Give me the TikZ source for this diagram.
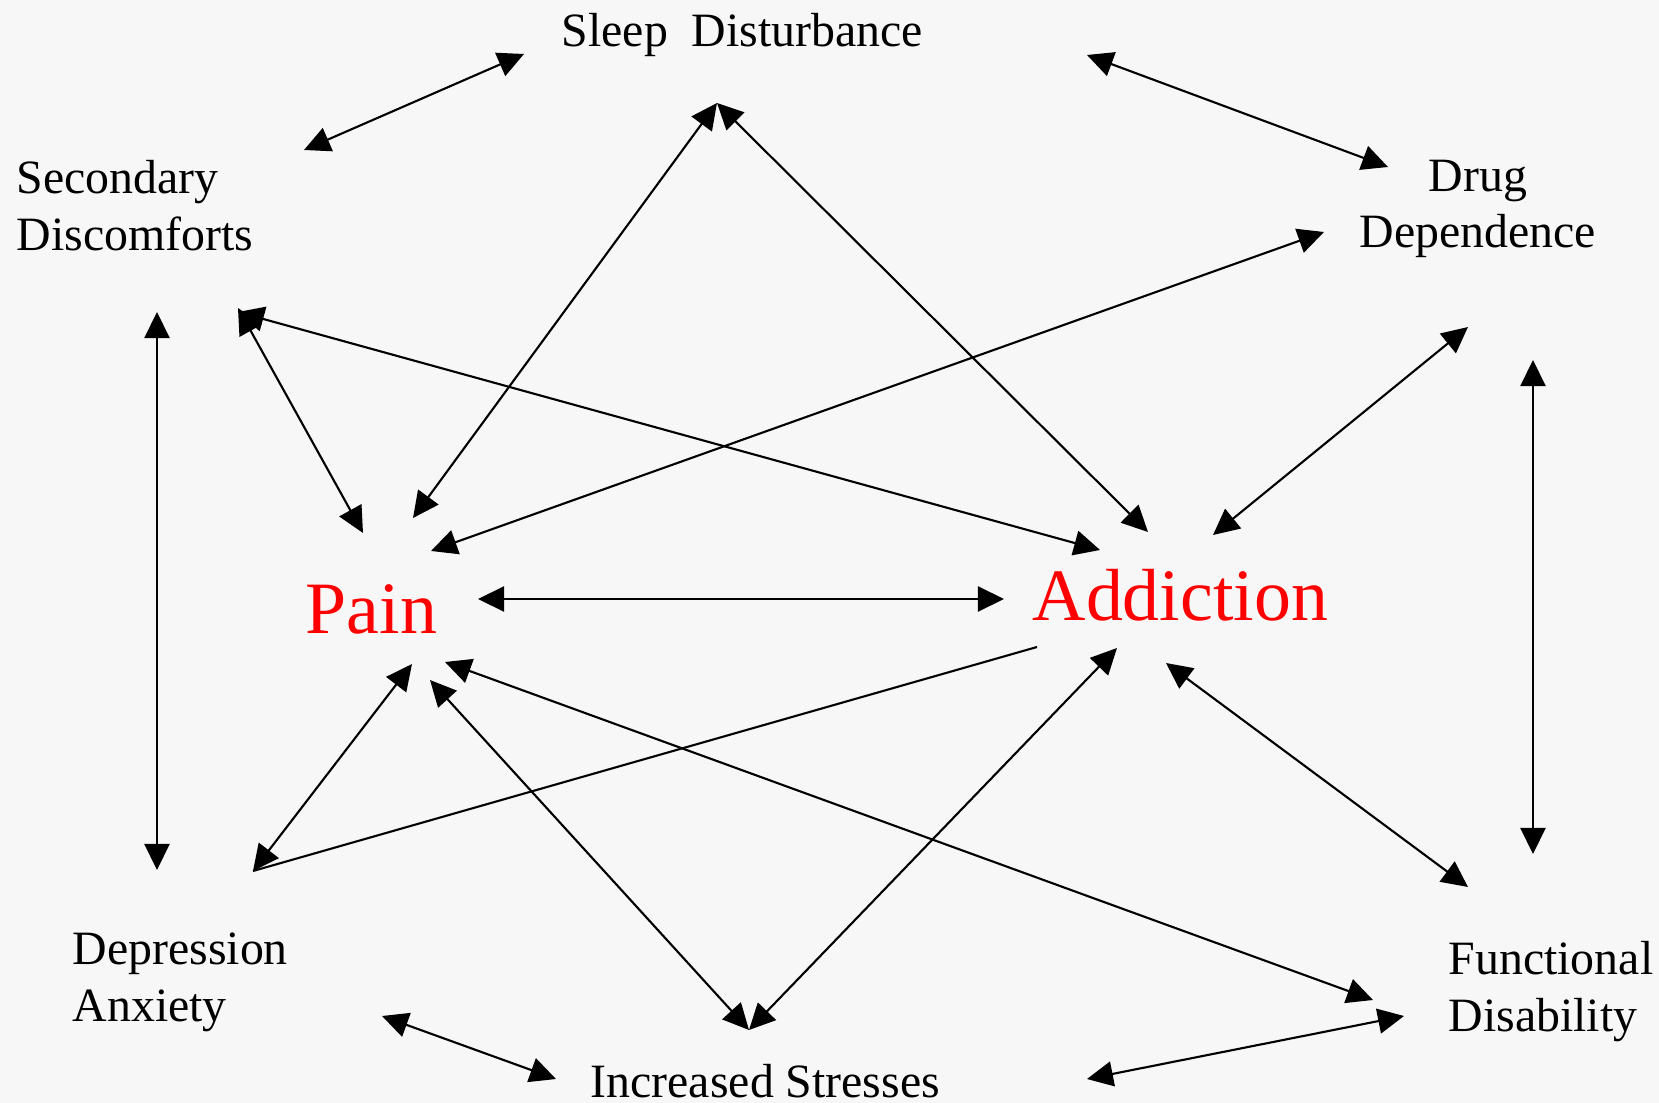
\documentclass[tikz,border=0pt]{standalone}
\usepackage{fontspec}
\setmainfont{Liberation Serif}
\usetikzlibrary{arrows.meta}
\definecolor{paper}{HTML}{F7F7F7}
\tikzset{
    factor/.style={
           inner sep=0pt,
           font=\fontsize{13.6}{16.2}\selectfont,
           },
    core/.style={
           inner sep=0pt,
           text=red,
           font=\fontsize{21}{25}\selectfont,
           },
    twoway/.style={
           {Triangle[length=0.26cm,width=0.25cm]}-{Triangle[length=0.26cm,width=0.25cm]},
           line width=0.6pt,
           },
    oneway/.style={
           line width=0.6pt,
           },
}

\begin{document}
\begin{tikzpicture}[x=0.01cm,y=-0.01cm]
  % page in pixels of the reference, y downwards
  \fill[paper] (0,0) rectangle (1659,1103);
  \useasboundingbox (0,0) rectangle (1659,1103);

  % the eight labels (two-line ones sit on the baseline of their last line)
  \node[factor,anchor=base west] (SLEEP) at (561,47) {Sleep\ \ Disturbance};
  \node[factor,anchor=base west,align=left] (SECONDARY) at (16,250) {Secondary\\Discomforts};
  \node[factor,anchor=base,align=center] (DRUG) at (1478,248) {Drug\\Dependence};
  \node[factor,anchor=base west,align=left] (DEPRESSION) at (72,1021) {Depression\\Anxiety};
  \node[factor,anchor=base west] (STRESSES) at (590,1097) {Increased Stresses};
  \node[factor,anchor=base west,align=left] (FUNCTIONAL) at (1448,1031) {Functional\\Disability};
  \node[core,anchor=base west] (PAIN) at (305,633) {Pain};
  \node[core,anchor=base west] (ADDICTION) at (1032,620) {Addiction};

  % outer ring
  \path[twoway]
   ([shift={(288,-100)}]SECONDARY.base west) edge ([shift={(-37,7)}]SLEEP.base west)
   ([shift={(526,8)}]SLEEP.base west) edge ([shift={(-90,-81)}]DRUG.base)
   ([shift={(141,62)}]SECONDARY.base west) edge ([shift={(85,-151)}]DEPRESSION.base west)
   ([shift={(55,112)}]DRUG.base) edge ([shift={(85,-177)}]FUNCTIONAL.base west)
   ([shift={(310,-5)}]DEPRESSION.base west) edge ([shift={(-34,-18)}]STRESSES.base west)
   ([shift={(497,-18)}]STRESSES.base west) edge ([shift={(-44,-15)}]FUNCTIONAL.base west);

  % Pain and Addiction to everything
  \path[twoway]
   ([shift={(173,-34)}]PAIN.base west) edge ([shift={(-28,-21)}]ADDICTION.base west)
   ([shift={(58,-100)}]PAIN.base west) edge ([shift={(222,58)}]SECONDARY.base west)
   ([shift={(108,-115)}]PAIN.base west) edge ([shift={(156,56)}]SLEEP.base west)
   ([shift={(126,-82)}]PAIN.base west) edge ([shift={(-154,-16)}]DRUG.base)
   ([shift={(125,47)}]PAIN.base west) edge ([shift={(159,-67)}]STRESSES.base west)
   ([shift={(140,29)}]PAIN.base west) edge ([shift={(-75,-31)}]FUNCTIONAL.base west)
   ([shift={(107,31)}]PAIN.base west) edge ([shift={(181,-150)}]DEPRESSION.base west)
   ([shift={(68,-70)}]ADDICTION.base west) edge ([shift={(222,62)}]SECONDARY.base west)
   ([shift={(116,-88)}]ADDICTION.base west) edge ([shift={(156,56)}]SLEEP.base west)
   ([shift={(181,-85)}]ADDICTION.base west) edge ([shift={(-10,79)}]DRUG.base)
   ([shift={(134,43)}]ADDICTION.base west) edge ([shift={(20,-144)}]FUNCTIONAL.base west)
   ([shift={(85,28)}]ADDICTION.base west) edge ([shift={(159,-67)}]STRESSES.base west);

  \draw[oneway] ([shift={(5,27)}]ADDICTION.base west) -- ([shift={(181,-150)}]DEPRESSION.base west);

\end{tikzpicture}
\end{document}
